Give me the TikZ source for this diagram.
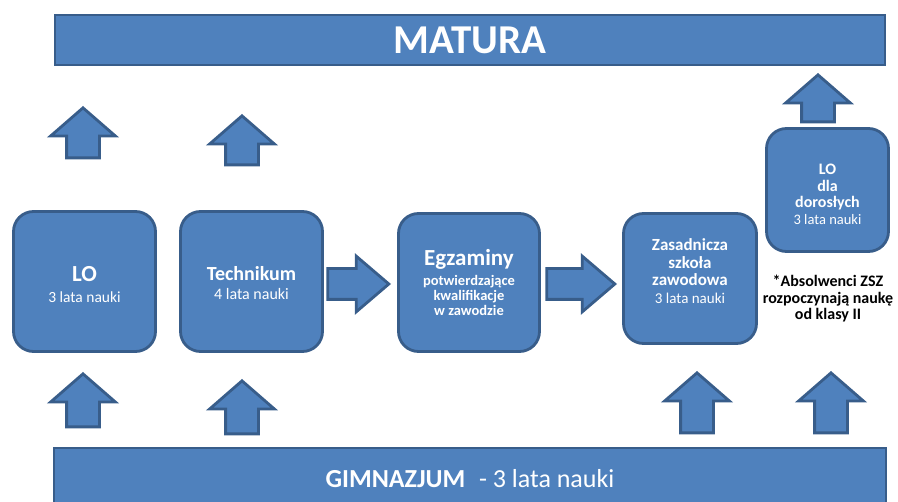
\documentclass[tikz,border=0pt]{standalone}
\usepackage{fontspec}
\setmainfont{Carlito}
\usetikzlibrary{shapes.arrows}
\definecolor{boxfill}{HTML}{4F81BD}
\definecolor{boxline}{HTML}{385D8A}
\newcommand{\fsz}[2]{\fontsize{#1}{#2}\selectfont}
\newcommand{\lift}[1]{\rule[-#1]{0pt}{#1}}
\begin{document}
\begin{tikzpicture}[x=1pt, y=-1pt, line width=2.8pt,
  bar node/.style={rectangle,draw=boxline,fill=boxfill,text=white,inner sep=0pt},
  school node/.style={rectangle,rounded corners=20pt,draw=boxline,fill=boxfill,text=white,align=center,inner sep=0pt},
  up arrow/.style={single arrow,draw=boxline,fill=boxfill,rotate=90,anchor=tip,inner xsep=0pt,inner ysep=15pt,single arrow head extend=16pt,single arrow tip angle=98,minimum height=#1},
  right arrow/.style={single arrow,draw=boxline,fill=boxfill,anchor=tip,inner xsep=0pt,inner ysep=14pt,single arrow head extend=12.5pt,single arrow tip angle=81,minimum height=#1}]
\useasboundingbox (0,0) rectangle (898,502);
% bars
\node [bar node,minimum width=830pt,minimum height=50pt](matura) at (470,40) {\bfseries\fsz{41}{42}MATURA};
\node [bar node,minimum width=832pt,minimum height=66pt,text depth=6pt](gim) at (470,481) {\fsz{26}{27}\textbf{GIMNAZJUM}\hspace{0.3em} - 3 lata nauki};
% schools
\node [school node,minimum width=142pt,minimum height=140pt,font=\fsz{15.5}{21}](lo) at (84.5,281.5) {{\bfseries\fsz{23}{21}\rule{0pt}{21pt}LO}\\3 lata nauki};
\node [school node,minimum width=142pt,minimum height=140pt,font=\fsz{16}{19}](tech) at (251.5,281.5) {{\bfseries\fsz{20}{19}\rule{0pt}{18pt}Technikum}\\4 lata nauki};
\node [school node,minimum width=141pt,minimum height=138pt,font=\bfseries\fsz{14.5}{15}](egz) at (469,282.5) {{\fsz{23}{15}Egzaminy}\\[5pt]potwierdzające\\kwalifikacje\\w zawodzie};
\node [school node,minimum width=133pt,minimum height=130pt,font=\fsz{17}{17.5}](zsz) at (690,278.5) {\textbf{Zasadnicza}\\\textbf{szkoła}\\\textbf{zawodowa}\\{\fsz{15}{17.5}3 lata nauki\lift{15pt}}};
\node [school node,minimum width=122pt,minimum height=123pt,font=\fsz{16}{16.7}](lod) at (827.5,190) {\textbf{\rule{0pt}{19pt}LO}\\\textbf{dla}\\\textbf{dorosłych}\\{\fsz{14.5}{16.7}3 lata nauki}};
\node [align=center,font=\bfseries\fsz{16}{16.5}](note) at (828,299) {*Absolwenci ZSZ\\rozpoczynają naukę\\od klasy II};
% arrows up to MATURA
\node [up arrow=50pt](ua1) at (83,106) {};
\node [up arrow=49pt](ua2) at (242,114) {};
\node [up arrow=47pt](ua3) at (818,73) {};
% arrows up from GIMNAZJUM
\node [up arrow=53pt](ub1) at (83,372) {};
\node [up arrow=53pt](ub2) at (242,379) {};
\node [up arrow=60pt](ub3) at (697,371) {};
\node [up arrow=60pt](ub4) at (831,371) {};
% arrows right
\node [right arrow=61pt](ra1) at (391,284) {};
\node [right arrow=68pt](ra2) at (617,284) {};
\end{tikzpicture}
\end{document}
